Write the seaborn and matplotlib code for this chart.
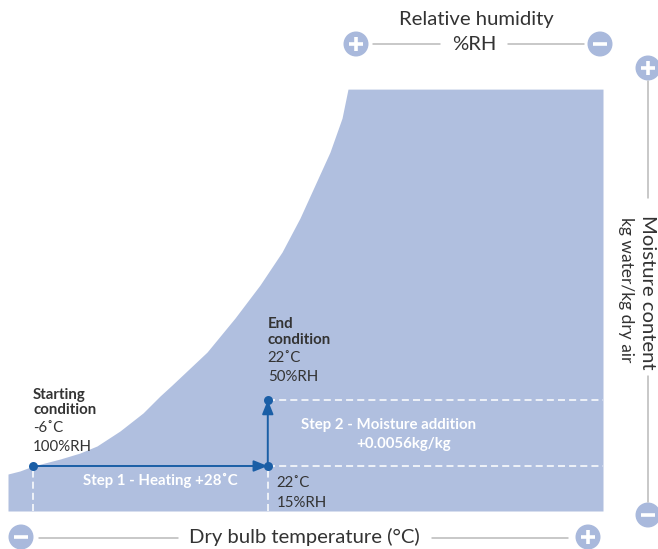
import matplotlib
matplotlib.use("Agg")
import matplotlib.pyplot as plt
from matplotlib.patches import Circle
import seaborn as sns

# saturation curve (dry bulb degC, moisture g/kg), closed on the right
SAT_TEMP = [-9.00, -7.57, -6.00, -2.79, -0.41, 1.62, 4.36, 7.11, 9.14, 10.57,
            14.75, 18.09, 21.07, 23.70, 25.84, 27.63, 29.42, 30.86, 31.57, 62.0]
SAT_MOIST = [1.82, 2.08, 2.50, 3.09, 3.60, 4.20, 5.47, 7.00, 8.44, 9.37,
             12.17, 15.06, 17.86, 20.66, 23.54, 26.34, 29.14, 32.03, 34.49, 34.49]

X_RANGE = (-9.0, 62.0)
Y_RANGE = (-1.32, 34.5)

# process states: start, after heating, after moisture addition
STATE_TEMP = [-6, 22, 22]
STATE_MOIST = [2.5, 2.5, 8.1]

FILL = "#b0bfdf"
BLUE = "#1a5ea6"
DISC = "#a9b9dc"
GREY = "#b8b8b8"
INK = "#333333"
W, H = 658, 549
PT = 0.72  # px -> points at 100 dpi

sns.set_theme(style="white")
plt.rcParams["font.family"] = ["Lato", "DejaVu Sans"]

fig = plt.figure(figsize=(W / 100, H / 100), dpi=100)
ax = fig.add_axes([8 / W, 38 / H, 595 / W, 422 / H])
ax.set_xlim(*X_RANGE)
ax.set_ylim(*Y_RANGE)
ax.axis("off")

ax.fill_between(SAT_TEMP, Y_RANGE[0], SAT_MOIST, color=FILL, lw=0, zorder=1)

start = (STATE_TEMP[0], STATE_MOIST[0])
mid = (STATE_TEMP[1], STATE_MOIST[1])
end = (STATE_TEMP[2], STATE_MOIST[2])

dash = dict(color="white", lw=1.1, dashes=(4.6, 2.7), zorder=2)
ax.plot([start[0], start[0]], [Y_RANGE[0], start[1]], **dash)
ax.plot([mid[0], mid[0]], [Y_RANGE[0], mid[1]], **dash)
ax.plot([mid[0], X_RANGE[1]], [mid[1], mid[1]], **dash)
ax.plot([end[0], X_RANGE[1]], [end[1], end[1]], **dash)

arrow = dict(arrowstyle="-|>,head_length=0.7,head_width=0.28", color=BLUE,
             lw=1.4, shrinkA=0, shrinkB=0)
ax.annotate("", xy=mid, xytext=start, arrowprops=arrow, zorder=3)
ax.annotate("", xy=end, xytext=mid, arrowprops=arrow, zorder=3)

sns.scatterplot(x=STATE_TEMP, y=STATE_MOIST, color=BLUE, s=42, linewidth=0,
                zorder=5, ax=ax, legend=False)


def label(xy, dx, dy, text, bold=False, color=INK, ha="left", size=10.8):
    ax.annotate(text, xy=xy, xytext=(dx * PT, -dy * PT), textcoords="offset points",
                ha=ha, va="baseline", fontsize=size, color=color,
                fontweight="bold" if bold else "normal", zorder=6)


label(start, 0, -67, "Starting", bold=True)
label(start, 0, -52, "condition", bold=True)
label(start, 0, -34, "-6˚C")
label(start, 0, -15, "100%RH")

label(end, 0, -72, "End", bold=True)
label(end, 0, -56, "condition", bold=True)
label(end, 0, -38, "22˚C")
label(end, 0, -19, "50%RH")

label(mid, 9, 21, "22˚C")
label(mid, 9, 41, "15%RH")

label(start, 127, 19, "Step 1 - Heating +28˚C", bold=True, color="white", ha="center")
label(mid, 121, -37, "Step 2 - Moisture addition", bold=True, color="white", ha="center")
label(mid, 136, -18, "+0.0056kg/kg", bold=True, color="white", ha="center")

# axis direction keys drawn on a full-figure pixel canvas
ov = fig.add_axes([0, 0, 1, 1], zorder=10)
ov.set_xlim(0, W)
ov.set_ylim(H, 0)
ov.axis("off")
ov.patch.set_alpha(0)


def disc(x, y, sign):
    ov.add_patch(Circle((x, y), 12.5, color=DISC, lw=0))
    ov.plot([x - 7, x + 7], [y, y], color="white", lw=3.6 * PT, solid_capstyle="butt")
    if sign == "+":
        ov.plot([x, x], [y - 7, y + 7], color="white", lw=3.6 * PT, solid_capstyle="butt")


def rule(x0, y0, x1, y1):
    ov.plot([x0, x1], [y0, y1], color=GREY, lw=1.5 * PT)


key = dict(fontsize=14.6, color=INK)

# top: relative humidity
disc(356, 44, "+")
disc(600, 44, "-")
rule(373, 44, 440, 44)
rule(508, 44, 584, 44)
ov.text(476, 20, "Relative humidity", ha="center", va="center", **key)
ov.text(474, 45, "%RH", ha="center", va="center", **key)

# right: moisture content
disc(648, 68, "+")
disc(648, 515, "-")
rule(648, 81, 648, 198)
rule(648, 376, 648, 502)
ov.text(647, 292, "Moisture content", ha="center", va="center", rotation=270, **key)
ov.text(626, 290, "kg water/kg dry air", ha="center", va="center", rotation=270,
        fontsize=12.5, color=INK)

# bottom: dry bulb temperature
disc(21, 537, "-")
disc(588, 537, "+")
rule(39, 538, 178, 538)
rule(432, 538, 568, 538)
ov.text(304, 537, "Dry bulb temperature (°C)", ha="center", va="center", **key)

fig.savefig("out.png", dpi=100)
